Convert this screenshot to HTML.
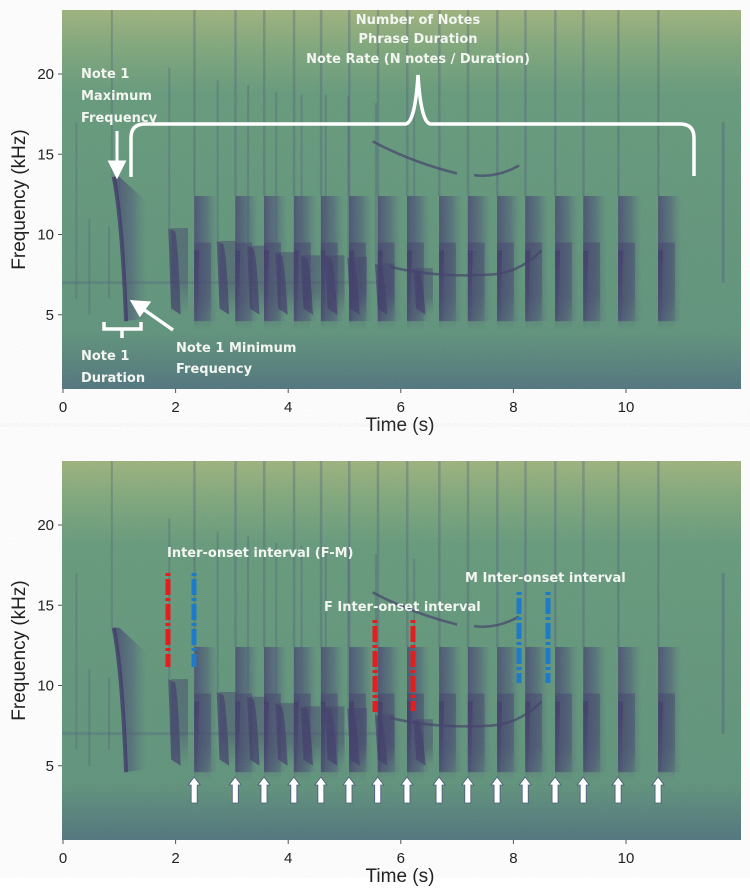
<!DOCTYPE html>
<html><head><meta charset="utf-8">
<style>
html,body{margin:0;padding:0;background:#fff;}
svg{display:block;}
.tick{font-family:"Liberation Sans",sans-serif;font-size:15px;fill:#222;}
.axt{font-family:"Liberation Sans",sans-serif;font-size:19px;fill:#222;}
.ann{font-family:"DejaVu Sans","Liberation Sans",sans-serif;font-size:13px;font-weight:bold;fill:#f2f5f0;}
</style></head>
<body>
<svg id="fig" width="750" height="895" viewBox="0 0 750 895" xmlns="http://www.w3.org/2000/svg">
<defs>
<linearGradient id="bg" x1="0" y1="0" x2="0" y2="1">
<stop offset="0" stop-color="#9db27c"/><stop offset="0.1" stop-color="#7ea67a"/>
<stop offset="0.22" stop-color="#64997a"/><stop offset="0.85" stop-color="#5e927a"/>
<stop offset="1" stop-color="#4f737c"/></linearGradient>
<linearGradient id="mband" x1="0" y1="0" x2="1" y2="0">
<stop offset="0" stop-color="#45466e" stop-opacity="0.85"/><stop offset="0.55" stop-color="#4a5775" stop-opacity="0.55"/>
<stop offset="1" stop-color="#55707a" stop-opacity="0"/></linearGradient>
<linearGradient id="lowband" x1="0" y1="0" x2="0" y2="1">
<stop offset="0" stop-color="#3e3a68" stop-opacity="0.45"/><stop offset="0.6" stop-color="#3e3a68" stop-opacity="0.4"/><stop offset="1" stop-color="#3e3a68" stop-opacity="0"/></linearGradient>
<linearGradient id="tail" x1="0" y1="0" x2="0" y2="1">
<stop offset="0" stop-color="#3e3a68" stop-opacity="0.9"/><stop offset="1" stop-color="#3e3a68" stop-opacity="0"/></linearGradient>
<filter id="grain"><feTurbulence type="fractalNoise" baseFrequency="0.9" numOctaves="1" seed="3"/><feColorMatrix type="saturate" values="0"/><feComponentTransfer><feFuncA type="table" tableValues="0 0.12"/></feComponentTransfer></filter>
</defs>
<g id="p1"></g>
<g id="p2"></g>
</svg>
<script>
const mTimes=[2.33,3.06,3.57,4.10,4.58,5.08,5.59,6.11,6.68,7.19,7.71,8.21,8.74,9.24,9.86,10.57];
const fTimes=[1.87,2.73,3.27,3.77,4.22,4.65,5.05,5.54,6.22];
const fFreqs=[10.4,9.6,9.3,8.9,8.7,8.7,8.6,8.2,7.9];
const xTicks=[0,2,4,6,8,10];
const yTicks=[5,10,15,20];
const NS="http://www.w3.org/2000/svg";
function mk(parent,tag,attrs,text){const e=document.createElementNS(NS,tag);for(const k in attrs)e.setAttribute(k,attrs[k]);if(text!==undefined)e.textContent=text;parent.appendChild(e);return e;}
const X0=63,PX=56.3;
function xs(t){return X0+t*PX;}
function panel(g,top,bottom,zeroY){
  const ys=f=>zeroY-f*16.05;
  let r=mk(g,'rect',{x:62,y:top,width:679,height:bottom-top,fill:'url(#bg)'});
  
  mk(g,'rect',{x:62,y:ys(7.1),width:320,height:3,fill:'#4d6a78',opacity:0.4});
  [[0.22,17,6],[0.45,11,5],[0.8,10.5,6]].forEach(a=>{mk(g,'rect',{x:xs(a[0]),y:ys(a[1]),width:2,height:ys(a[2])-ys(a[1]),fill:'#4b5f78',opacity:0.35});});
  let n1=mk(g,'path',{d:`M${xs(0.9)},${ys(13.6)} Q${xs(1.05)},${ys(11)} ${xs(1.12)},${ys(4.6)} L${xs(1.5)},${ys(4.8)} L${xs(1.5)},${ys(12)} L${xs(1.0)},${ys(13.6)}Z`,fill:'url(#mband)'});
  
  mk(g,'path',{d:`M${xs(0.9)},${ys(13.6)} Q${xs(1.05)},${ys(11)} ${xs(1.12)},${ys(4.6)}`,stroke:'#3b3565',fill:'none','stroke-width':4,opacity:0.8});
  mk(g,'rect',{x:xs(0.85),y:top,width:2,height:ys(13.6)-top,fill:'#4d6478',opacity:0.4});
  mTimes.forEach((t,i)=>{
    const x=xs(t);
    let b=mk(g,'rect',{x:x,y:ys(12.4),width:0.42*PX,height:ys(4.6)-ys(12.4),fill:'url(#mband)'});
    
    mk(g,'rect',{x:x,y:ys(9.5),width:0.3*PX,height:ys(4.0)-ys(9.5),fill:'url(#lowband)'});
    mk(g,'rect',{x:x-1,y:top,width:2.5,height:ys(12.4)-top,fill:'#4a5a78',opacity:0.35});
    mk(g,'path',{d:`M${x},${ys(9)} L${x+5},${ys(9)} L${x+3},${ys(4.2)} L${x},${ys(4.2)}Z`,fill:'url(#tail)'});
  });
  fTimes.forEach((t,i)=>{
    const x=xs(t),f=fFreqs[i];
    let p=mk(g,'path',{d:`M${x},${ys(f)} L${x+0.12*PX},${ys(f-0.2)} Q${x+0.18*PX},${ys(f-1)} ${x+0.22*PX},${ys(5.0)} L${x+0.05*PX},${ys(5.4)}Z`,fill:'#3f3b69',opacity:0.7});
    
    mk(g,'rect',{x:x+0.05*PX,y:ys(f),width:0.3*PX,height:ys(5)-ys(f),fill:'url(#lowband)'});
    mk(g,'rect',{x:x,y:ys(Math.min(21,f+10)),width:2,height:ys(f)-ys(Math.min(21,f+10)),fill:'#4a5a78',opacity:0.35});
  });
  mk(g,'path',{d:`M${xs(5.5)},${ys(15.8)} Q${xs(6.2)},${ys(14.5)} ${xs(7)},${ys(13.8)} M${xs(7.3)},${ys(13.7)} Q${xs(7.7)},${ys(13.5)} ${xs(8.1)},${ys(14.3)} M${xs(5.8)},${ys(8)} Q${xs(6.6)},${ys(7.3)} ${xs(7.6)},${ys(7.5)} Q${xs(8.1)},${ys(7.6)} ${xs(8.5)},${ys(9)}`,stroke:'#3e3d68',fill:'none','stroke-width':2.5,opacity:0.7});
  mk(g,'rect',{x:xs(11.7),y:ys(17),width:3,height:ys(7)-ys(17),fill:'#4a5a78',opacity:0.4});
  mk(g,'rect',{x:62,y:top,width:679,height:bottom-top,filter:'url(#grain)',fill:'#fff'});
  xTicks.forEach(v=>{mk(g,'line',{x1:xs(v),x2:xs(v),y1:bottom,y2:bottom+4,stroke:'#555'});
    let t=mk(g,'text',{x:xs(v),y:bottom+23,'text-anchor':'middle',class:'tick'},v);
    });
  yTicks.forEach(v=>{mk(g,'line',{x1:58,x2:62,y1:ys(v),y2:ys(v),stroke:'#555'});
    let t=mk(g,'text',{x:54,y:ys(v)+5,'text-anchor':'end',class:'tick'},v);
    });
  let yt=mk(g,'text',{x:0,y:0,transform:`translate(25,${(top+bottom)/2}) rotate(-90)`,'text-anchor':'middle',class:'axt'},'Frequency (kHz)');
  
  let xt=mk(g,'text',{x:400,y:bottom+42,'text-anchor':'middle',class:'axt'},'Time (s)');
  
}
const g1=document.getElementById('p1'),g2=document.getElementById('p2');
panel(g1,10,389,395);
panel(g2,461,840,846);
function txt(g,x,y,s,anchor,name){let t=mk(g,'text',{x:x,y:y,class:'ann','text-anchor':anchor||'start'},s);return t;}
txt(g1,418,24,'Number of Notes','middle','phrase-label');
txt(g1,418,43,'Phrase Duration','middle','phrase-label');
txt(g1,418,63,'Note Rate (N notes / Duration)','middle','phrase-label');
let br=mk(g1,'path',{d:'M131,177 L131,138 Q131,124 145,124 L405,124 Q415,124 418,75 Q421,124 431,124 L680,124 Q694,124 694,138 L694,176',stroke:'#fff',fill:'none','stroke-width':3.5});

txt(g1,81,78,'Note 1','start','note1-max-label');
txt(g1,81,100,'Maximum','start','note1-max-label');
txt(g1,81,122,'Frequency','start','note1-max-label');
mk(g1,'path',{d:'M117,131 L117,164 M110,162 L117,176 L124,162 Z',stroke:'#fff',fill:'#fff','stroke-width':3});
mk(g1,'path',{d:'M104,322 L104,329 L141,329 L141,322 M122,329 L122,338',stroke:'#fff',fill:'none','stroke-width':3.5});
txt(g1,81,360,'Note 1','start','note1-duration-label');
txt(g1,81,382,'Duration','start','note1-duration-label');
mk(g1,'path',{d:'M173,330 L143,309 M133,302 L148,303 L140,314 Z',stroke:'#fff',fill:'#fff','stroke-width':3.5});
txt(g1,176,352,'Note 1 Minimum','start','note1-min-label');
txt(g1,176,373,'Frequency','start','note1-min-label');
txt(g2,167,557,'Inter-onset interval (F-M)','start','fm-interval-label');
txt(g2,324,611,'F Inter-onset interval','start','f-interval-label');
txt(g2,465,582,'M Inter-onset interval','start','m-interval-label');
function dash(x,y1,y2,c){let l=mk(g2,'line',{x1:x,x2:x,y1:y1,y2:y2,stroke:c,'stroke-width':5,'stroke-dasharray':'3 3 16 3'});}
dash(168,573,667,'#e41e1e');dash(194,573,667,'#1f7ac9');
dash(375,620,712,'#e41e1e');dash(413,620,711,'#e41e1e');
dash(519,592,683,'#1f7ac9');dash(548,592,683,'#1f7ac9');
mTimes.forEach(t=>{const x=xs(t);
  let a=mk(g2,'path',{d:`M${x},777 L${x+6},785 L${x+3},785 L${x+3},803 L${x-3},803 L${x-3},785 L${x-6},785 Z`,fill:'#fff',stroke:'#4a5a7a','stroke-width':0.8});
  });
</script>
</body></html>
